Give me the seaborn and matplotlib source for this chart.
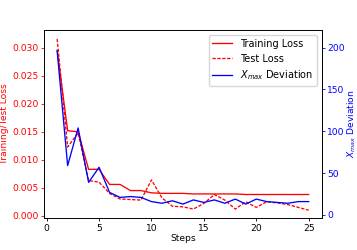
import numpy as np
import pandas as pd
import seaborn as sns
import matplotlib.pyplot as plt

# values
steps = list(range(1, 26))
train_loss = [0.0296, 0.0152, 0.0150, 0.0083, 0.0083, 0.0056, 0.0056, 0.0045, 0.0045, 0.0041,
              0.0040, 0.0040, 0.0040, 0.0039, 0.0039, 0.0039, 0.0039, 0.0039, 0.0038, 0.0038,
              0.0038, 0.0038, 0.0038, 0.0038, 0.0038]
test_loss = [0.0316, 0.0123, 0.0148, 0.0063, 0.0060, 0.0040, 0.0030, 0.0029, 0.0028, 0.0064,
             0.0032, 0.0017, 0.0016, 0.0012, 0.0022, 0.0038, 0.0028, 0.0012, 0.0025, 0.0015,
             0.0025, 0.0023, 0.0020, 0.0015, 0.0010]
xmax_dev = [196, 59, 104, 39, 57, 27, 21, 22, 21, 16,
            14, 17, 13, 18, 15, 18, 14, 19, 13, 19,
            16, 15, 14, 16, 16]

df = pd.DataFrame({'step': steps, 'train': train_loss, 'test': test_loss, 'xmax': xmax_dev})

fs = 6.6
plt.rcParams['font.size'] = fs
plt.rcParams['axes.linewidth'] = 0.6
plt.rcParams['xtick.major.width'] = 0.6
plt.rcParams['ytick.major.width'] = 0.6
plt.rcParams['xtick.major.size'] = 2.2
plt.rcParams['ytick.major.size'] = 2.2
plt.rcParams['xtick.major.pad'] = 2.0
plt.rcParams['ytick.major.pad'] = 1.8

fig, ax1 = plt.subplots(figsize=(3.57, 2.5), dpi=100)
fig.subplots_adjust(left=0.124, right=0.901, bottom=0.128, top=0.88)

sns.lineplot(x='step', y='train', data=df, ax=ax1, color='red', lw=0.95, label='Training Loss', legend=False)
sns.lineplot(x='step', y='test', data=df, ax=ax1, color='red', lw=0.95, linestyle='--',
             dashes=False, label='Test Loss', legend=False)
ax1.lines[1].set_linestyle((0, (2.5, 1.2)))
ax1.set_xlabel('Steps', fontsize=fs, labelpad=1)
ax1.set_ylabel('Training/Test Loss', color='red', fontsize=fs)
ax1.yaxis.set_label_coords(-0.128, 0.5)
ax1.tick_params(axis='y', colors='red', labelsize=fs)
ax1.tick_params(axis='x', labelsize=fs)
ax1.set_xticks([0, 5, 10, 15, 20, 25])
ax1.set_ylim(-0.0004, 0.0332)

ax2 = ax1.twinx()
sns.lineplot(x='step', y='xmax', data=df, ax=ax2, color='blue', lw=0.95, label='$X_{max}$ Deviation', legend=False)
ax2.set_ylabel('$X_{max}$ Deviation', color='blue', fontsize=fs)
ax2.yaxis.set_label_coords(1.086, 0.5)
ax2.tick_params(axis='y', colors='blue', labelsize=fs)
ax2.set_ylim(-3.6, 221)
ax2.set_yticks([0, 50, 100, 150, 200])
ax1.set_xlim(-0.23, 26.24)

h1, l1 = ax1.get_legend_handles_labels()
h2, l2 = ax2.get_legend_handles_labels()
ax2.legend(h1 + h2, l1 + l2, loc='upper right', fontsize=7)

plt.savefig('out.png', dpi=100)
